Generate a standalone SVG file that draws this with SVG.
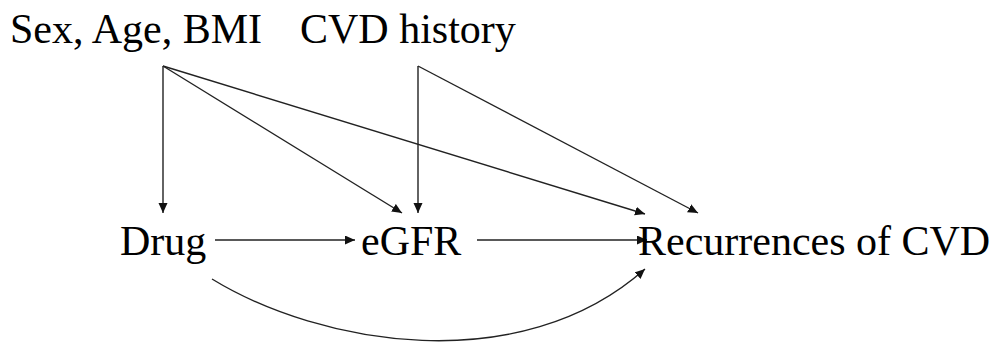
<svg xmlns="http://www.w3.org/2000/svg" width="998" height="343" viewBox="0 0 998 343">
<style>
text{font-family:"Liberation Serif","Times New Roman",serif;font-size:42px;fill:#000}
.c{fill:none;stroke:#222;stroke-width:1.4}
</style>
<defs>
<marker id="ah" markerUnits="userSpaceOnUse" markerWidth="12" markerHeight="10" refX="10" refY="4.5" orient="auto">
<path d="M0,0 L10,4.5 L0,9 Z" fill="#111"/>
</marker>
</defs>
<rect width="998" height="343" fill="#fff"/>
<g id="connectors">
<path class="c" d="M163,66 L163,213" marker-end="url(#ah)"/>
<path class="c" d="M163,66 L402,213" marker-end="url(#ah)"/>
<path class="c" d="M163,66 L645,214" marker-end="url(#ah)"/>
<path class="c" d="M418,66 L418,213" marker-end="url(#ah)"/>
<path class="c" d="M418,66 L698,213" marker-end="url(#ah)"/>
<path class="c" d="M215,240 L355,240" marker-end="url(#ah)"/>
<path class="c" d="M477,240 L647,240" marker-end="url(#ah)"/>
<path class="c" d="M212,279 C320,345 520,380 645,269" marker-end="url(#ah)"/>
</g>
<g id="n-sex"><text x="10" y="43">Sex, Age, BMI</text></g>
<g id="n-cvdhist"><text x="300" y="43">CVD history</text></g>
<g id="n-drug"><text x="120" y="255">Drug</text></g>
<g id="n-egfr"><text x="361" y="255">eGFR</text></g>
<g id="n-rec"><text x="638" y="255">Recurrences of CVD</text></g>
</svg>
